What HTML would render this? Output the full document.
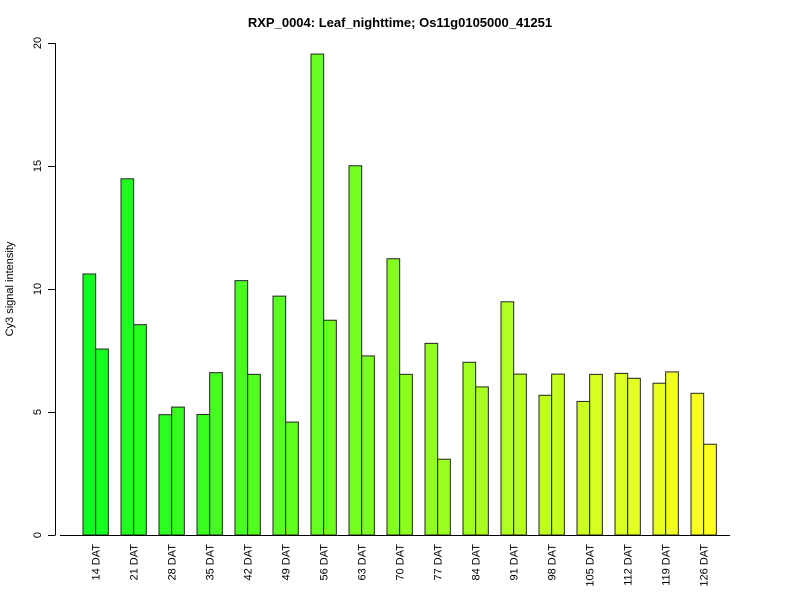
<!DOCTYPE html>
<html><head><meta charset="utf-8"><style>
body{margin:0;background:#fff}
svg{display:block;font-family:"Liberation Sans",sans-serif}
</style></head><body>
<svg id="chart" width="800" height="600">
<text x="400" y="27" text-anchor="middle" font-size="13" font-weight="bold">RXP_0004: Leaf_nighttime; Os11g0105000_41251</text>
<text transform="translate(13,289) rotate(-90)" text-anchor="middle" font-size="11">Cy3 signal intensity</text>
<g id="yaxis"></g>
<g id="bars"></g>
<g id="xlabels"></g>
<line x1="60" y1="535.5" x2="730" y2="535.5" stroke="#000"/>
</svg>
<script>
const categories=["14 DAT","21 DAT","28 DAT","35 DAT","42 DAT","49 DAT","56 DAT","63 DAT","70 DAT","77 DAT","84 DAT","91 DAT","98 DAT","105 DAT","112 DAT","119 DAT","126 DAT"];
const series1=[10.61,14.48,4.89,4.9,10.34,9.71,19.55,15.01,11.23,7.79,7.02,9.48,5.68,5.43,6.57,6.17,5.76];
const series2=[7.56,8.55,5.2,6.6,6.53,4.59,8.73,7.28,6.53,3.08,6.02,6.54,6.54,6.53,6.37,6.63,3.69];
const yTicks=[0,5,10,15,20];
const NS="http://www.w3.org/2000/svg";
const y=v=>535-v*24.6;
const bw=12.67, x0=83, gap=38;
const yaxis=document.getElementById('yaxis');
const axl=document.createElementNS(NS,'line');


axl.setAttribute('x1',55.5);axl.setAttribute('x2',55.5);
axl.setAttribute('y1',y(yTicks[0]));axl.setAttribute('y2',y(yTicks[yTicks.length-1]));
axl.setAttribute('stroke','#000');yaxis.appendChild(axl);
yTicks.forEach(t=>{
 const l=document.createElementNS(NS,'line');
 
 
 l.setAttribute('x1',48);l.setAttribute('x2',55.5);l.setAttribute('y1',y(t)+0.5);l.setAttribute('y2',y(t)+0.5);l.setAttribute('stroke','#000');
 yaxis.appendChild(l);
 const tx=document.createElementNS(NS,'text');
 
 
 tx.setAttribute('transform',`translate(41,${y(t)}) rotate(-90)`);
 tx.setAttribute('text-anchor','middle');tx.setAttribute('font-size','11');
 tx.textContent=t;yaxis.appendChild(tx);
});
const bars=document.getElementById('bars'), xl=document.getElementById('xlabels');
const n=categories.length*2;
function col(i){const f=i/(n-1);const r=Math.round(16+f*(255-16));return `rgb(${r},255,32)`;}
categories.forEach((c,i)=>{
 [series1[i],series2[i]].forEach((v,j)=>{
  const r=document.createElementNS(NS,'rect');
  
  
  const bx=x0+i*gap+j*bw;
  r.setAttribute('x',bx);r.setAttribute('y',y(v));r.setAttribute('width',bw);r.setAttribute('height',535-y(v));
  r.setAttribute('fill',col(i*2+j));r.setAttribute('stroke','#222');r.setAttribute('stroke-width','1');
  bars.appendChild(r);
 });
 const tx=document.createElementNS(NS,'text');
 
 
 tx.setAttribute('transform',`translate(${x0+i*gap+bw+4},544) rotate(-90)`);
 tx.setAttribute('text-anchor','end');tx.setAttribute('font-size','11');
 tx.textContent=c;xl.appendChild(tx);
});
</script>
</body></html>
